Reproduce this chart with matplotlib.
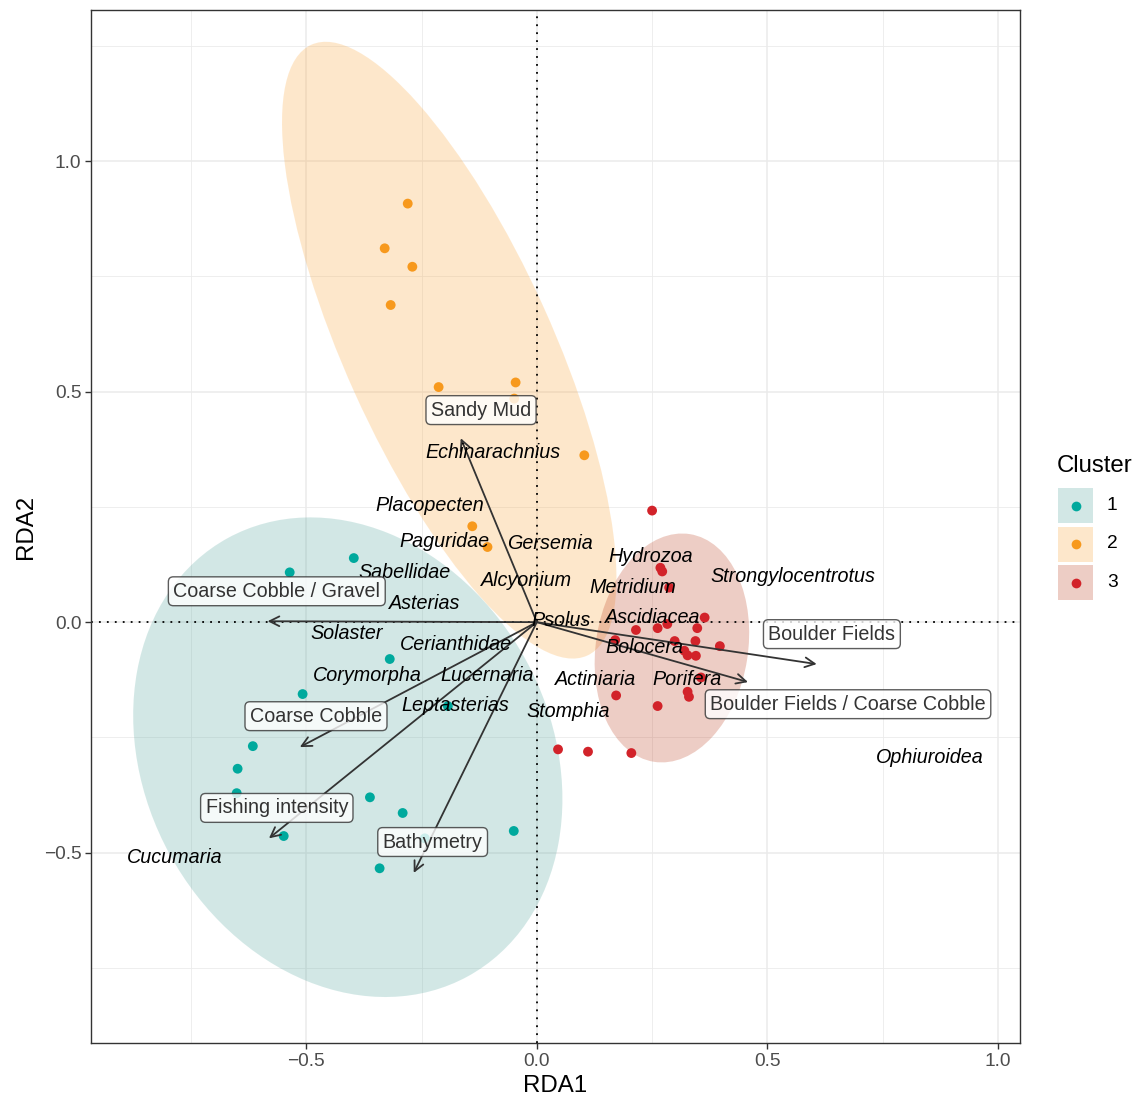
import matplotlib
matplotlib.use("Agg")
import matplotlib.pyplot as plt
from matplotlib.patches import Ellipse, Rectangle
from matplotlib.lines import Line2D

plt.rcParams['font.family'] = ['Liberation Sans', 'DejaVu Sans']

# ---- site scores by cluster ----
c1_x = [-0.536, -0.397, -0.319, -0.508, -0.193, -0.616, -0.649, -0.651, -0.362,
        -0.291, -0.549, -0.050, -0.341, -0.243]
c1_y = [0.108, 0.139, -0.080, -0.156, -0.182, -0.269, -0.318, -0.371, -0.380,
        -0.414, -0.464, -0.453, -0.534, -0.469]

c2_x = [-0.280, -0.330, -0.270, -0.317, -0.213, -0.046, -0.049, 0.103, -0.140, -0.107]
c2_y = [0.908, 0.811, 0.771, 0.688, 0.510, 0.520, 0.485, 0.362, 0.208, 0.163]

c3_x = [0.250, 0.268, 0.272, 0.287, 0.364, 0.215, 0.262, 0.283, 0.348, 0.170,
        0.299, 0.344, 0.397, 0.320, 0.327, 0.345, 0.356, 0.327, 0.330, 0.172,
        0.262, 0.046, 0.111, 0.205]
c3_y = [0.242, 0.118, 0.110, 0.075, 0.010, -0.017, -0.013, -0.004, -0.013, -0.039,
        -0.041, -0.041, -0.052, -0.062, -0.072, -0.073, -0.120, -0.151, -0.162, -0.159,
        -0.182, -0.276, -0.281, -0.284]

# ---- cluster ellipses: centre x, centre y, semi-axis a, semi-axis b, angle (deg) ----
ell_cx = [-0.410, -0.190, 0.293]
ell_cy = [-0.293, 0.590, -0.056]
ell_a = [0.542, 0.727, 0.250]
ell_b = [0.440, 0.225, 0.165]
ell_ang = [118.7, 114.3, 81.0]

clusters = ['1', '2', '3']
point_cols = ['#00A99D', '#F7991D', '#D2232A']
fill_cols = ['#4FA39B', '#FBA333', '#BB3A18']

# ---- species scores ----
species = ['Echinarachnius', 'Placopecten', 'Paguridae', 'Gersemia', 'Sabellidae',
           'Alcyonium', 'Hydrozoa', 'Metridium', 'Strongylocentrotus', 'Asterias',
           'Psolus', 'Ascidiacea', 'Solaster', 'Cerianthidae', 'Bolocera',
           'Corymorpha', 'Lucernaria', 'Actiniaria', 'Porifera', 'Leptasterias',
           'Stomphia', 'Ophiuroidea', 'Cucumaria']
sp_x = [-0.095, -0.232, -0.200, 0.028, -0.286, -0.022, 0.247, 0.208, 0.555, -0.243,
        0.052, 0.252, -0.412, -0.176, 0.234, -0.367, -0.108, 0.128, 0.325, -0.176,
        0.067, 0.852, -0.785]
sp_y = [0.367, 0.254, 0.176, 0.171, 0.108, 0.091, 0.143, 0.076, 0.098, 0.041,
        0.004, 0.009, -0.024, -0.048, -0.056, -0.115, -0.115, -0.124, -0.124, -0.180,
        -0.193, -0.293, -0.510]

# ---- environmental vectors ----
env_names = ['Sandy Mud', 'Coarse Cobble / Gravel', 'Coarse Cobble', 'Fishing intensity',
             'Bathymetry', 'Boulder Fields', 'Boulder Fields / Coarse Cobble']
env_x = [-0.165, -0.584, -0.514, -0.581, -0.267, 0.607, 0.458]
env_y = [0.399, 0.002, -0.271, -0.469, -0.544, -0.091, -0.130]
env_lab_x = [-0.121, -0.564, -0.479, -0.564, -0.226, 0.640, 0.675]
env_lab_y = [0.460, 0.067, -0.204, -0.403, -0.477, -0.026, -0.178]

W, H = 1140, 1101
fig = plt.figure(figsize=(W / 100, H / 100), dpi=100)
ax = fig.add_axes([91 / W, 1 - 1043 / H, (1020 - 91) / W, (1043 - 10) / H])

ax.set_xlim(-0.967, 1.048)
ax.set_ylim(-0.913, 1.328)

# grid (theme_bw style)
ax.set_xticks([-0.5, 0.0, 0.5, 1.0])
ax.set_yticks([-0.5, 0.0, 0.5, 1.0])
ax.set_xticks([-0.75, -0.25, 0.25, 0.75], minor=True)
ax.set_yticks([-0.75, -0.25, 0.25, 0.75, 1.25], minor=True)
ax.grid(which='major', color='#EBEBEB', lw=1.1, zorder=0)
ax.grid(which='minor', color='#EBEBEB', lw=0.6, zorder=0)
ax.set_axisbelow(True)
ax.tick_params(which='minor', length=0)
ax.tick_params(which='major', length=4, width=1.0, color='#333333', pad=3,
               labelsize=13.8, labelcolor='#4D4D4D')
ax.set_xticklabels(['\u22120.5', '0.0', '0.5', '1.0'])
ax.set_yticklabels(['\u22120.5', '0.0', '0.5', '1.0'])
for s in ax.spines.values():
    s.set_color('#333333')
    s.set_linewidth(1.0)

# ellipses
for i in range(3):
    e = Ellipse((ell_cx[i], ell_cy[i]), 2 * ell_a[i], 2 * ell_b[i], angle=ell_ang[i],
                facecolor=fill_cols[i], alpha=0.25, edgecolor='none', zorder=1)
    ax.add_patch(e)

# reference lines
ax.axhline(0, color='black', lw=1.3, ls=(0, (1, 3.4)), zorder=2)
ax.axvline(0, color='black', lw=1.3, ls=(0, (1, 3.4)), zorder=2)

# sites
for xs, ys, col in zip([c1_x, c2_x, c3_x], [c1_y, c2_y, c3_y], point_cols):
    ax.scatter(xs, ys, s=50, color=col, edgecolors='none', zorder=3)

# environmental arrows
for x, y in zip(env_x, env_y):
    ax.annotate('', xy=(x, y), xytext=(0, 0),
                arrowprops=dict(arrowstyle='->,head_length=0.7,head_width=0.35',
                                color='#333333', lw=1.3, shrinkA=0, shrinkB=0),
                zorder=4)

# species names
for name, x, y in zip(species, sp_x, sp_y):
    ax.text(x, y, name, ha='center', va='center', fontsize=14.2, style='italic',
            color='black', zorder=5)

# vector labels
for name, x, y in zip(env_names, env_lab_x, env_lab_y):
    ax.text(x, y, name, ha='center', va='center', fontsize=14.2, color='#333333',
            zorder=6,
            bbox=dict(boxstyle='round,pad=0.25,rounding_size=0.25', facecolor='white',
                      alpha=0.8, edgecolor='#333333', linewidth=1.0))

ax.set_xlabel('RDA1', fontsize=17.3, labelpad=4)
ax.set_ylabel('RDA2', fontsize=17.3, labelpad=5)

# legend, drawn in figure pixel units
tr = fig.transFigure
fig.text(1057 / W, 1 - 466 / H, 'Cluster', fontsize=17.3, ha='left', va='center')
key_top = [488, 526.5, 565]
for i in range(3):
    y0 = key_top[i]
    fig.add_artist(Rectangle((1058 / W, 1 - (y0 + 35) / H), 35 / W, 35 / H,
                             facecolor=fill_cols[i], alpha=0.25, edgecolor='none',
                             transform=tr))
    fig.add_artist(Line2D([1075.5 / W], [1 - (y0 + 17.5) / H], ls='none', marker='o',
                          ms=7, color=point_cols[i], markeredgewidth=0, transform=tr))
    fig.text(1107 / W, 1 - (y0 + 17.5) / H, clusters[i], fontsize=13.8,
             ha='left', va='center')

fig.savefig('out.png', dpi=100)
